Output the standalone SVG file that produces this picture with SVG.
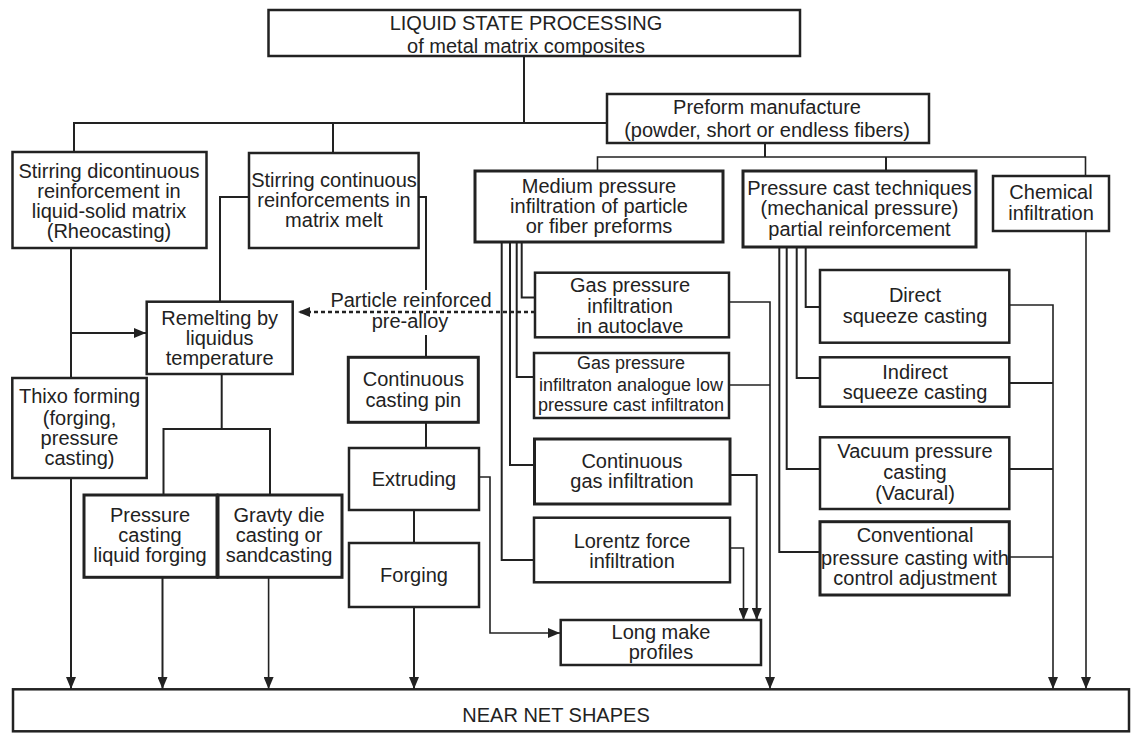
<svg xmlns="http://www.w3.org/2000/svg" width="1131" height="734" viewBox="0 0 1131 734">
<style>
.box{fill:#fff;stroke:#222;stroke-width:2.5}
.t{font-family:"Liberation Sans",Arial,sans-serif;font-size:20px;fill:#222;text-anchor:middle}
.s{font-size:18px}
.c{fill:none;stroke:#222;stroke-width:2}
.thin{stroke-width:1.6}
.dash{fill:none;stroke:#222;stroke-width:2.5;stroke-dasharray:4 3}
</style>
<defs>
<marker id="a" viewBox="0 0 12 10" refX="12" refY="5" markerWidth="12" markerHeight="10" markerUnits="userSpaceOnUse" orient="auto"><path d="M0,0 L12,5 L0,10 z" fill="#222"/></marker>
</defs>
<rect width="1131" height="734" fill="#fff"/>
<g id="connectors">
<path class="c" d="M524,56 V123"/>
<path class="c" d="M74,152 V123 H607"/>
<path class="c" d="M333,123 V153"/>
<path class="c" d="M765,143 V157"/>
<path class="c thin" d="M597.5,171 V157 H1085.5 V176"/>
<path class="c" d="M886,157 V171"/>
<path class="c" d="M249,197 H220 V301.7"/>
<path class="c" d="M418.6,197 H426 V290"/>
<path class="c" d="M426,335 V357"/>
<path class="c" d="M71,248 V378"/>
<path class="c" d="M71,333 H146" marker-end="url(#a)"/>
<path class="c" d="M221.7,374 V429"/>
<path class="c" d="M163.5,495 V429 H270 V495"/>
<path class="c" d="M71,478 V689" marker-end="url(#a)"/>
<path class="c" d="M162.5,577 V689" marker-end="url(#a)"/>
<path class="c thin" d="M268.6,577 V689" marker-end="url(#a)"/>
<path class="c" d="M426,422 V448"/>
<path class="c" d="M414,510 V543"/>
<path class="c" d="M414,607 V689" marker-end="url(#a)"/>
<path class="c thin" d="M479,477 H490 V633 H560" marker-end="url(#a)"/>
<path class="c" d="M521.7,242 V297.5 H535"/>
<path class="c" d="M516.7,242 V377 H534"/>
<path class="c" d="M510,242 V465 H535"/>
<path class="c" d="M501.7,242 V560 H534"/>
<path class="c thin" d="M729,302 H770 V689" marker-end="url(#a)"/>
<path class="c thin" d="M729,385 H770"/>
<path class="c" d="M730,475 H756.7 V620" marker-end="url(#a)"/>
<path class="c thin" d="M730,548 H743.5 V620" marker-end="url(#a)"/>
<path class="c" d="M805.7,247 V307 H820"/>
<path class="c" d="M796.7,247 V378 H820"/>
<path class="c" d="M786.7,247 V469 H820"/>
<path class="c" d="M779.3,247 V552 H820"/>
<path class="c thin" d="M1009,305 H1053 V689" marker-end="url(#a)"/>
<path class="c" d="M1009,383 H1053"/>
<path class="c" d="M1009,469 H1053"/>
<path class="c thin" d="M1009,557 H1053"/>
<path class="c thin" d="M1086,231 V689" marker-end="url(#a)"/>
<path class="dash" d="M535,312 H298" marker-end="url(#a)"/>
<text class="t"><tspan x="411" y="307">Particle reinforced</tspan><tspan x="410" y="328">pre-alloy</tspan></text>
</g>
<g id="n-top"><rect class="box" x="268.5" y="10" width="531.5" height="46"/>
<text class="t"><tspan x="526" y="30">LIQUID STATE PROCESSING</tspan><tspan x="526" y="53">of metal matrix composites</tspan></text></g>
<g id="n-preform"><rect class="box" x="607" y="94" width="322" height="49"/>
<text class="t"><tspan x="767" y="114">Preform manufacture</tspan><tspan x="767" y="137">(powder, short or endless fibers)</tspan></text></g>
<g id="n-stir-disc"><rect class="box" x="12.5" y="152" width="194" height="96"/>
<text class="t"><tspan x="109" y="178">Stirring dicontinuous</tspan><tspan x="109" y="198">reinforcement in</tspan><tspan x="109" y="218">liquid-solid matrix</tspan><tspan x="109" y="238">(Rheocasting)</tspan></text></g>
<g id="n-stir-cont"><rect class="box" x="249" y="153" width="169.6" height="95"/>
<text class="t"><tspan x="334" y="187">Stirring continuous</tspan><tspan x="334" y="207">reinforcements in</tspan><tspan x="334" y="227">matrix melt</tspan></text></g>
<g id="n-medium"><rect class="box" x="475" y="171" width="248" height="71" style="stroke-width:3"/>
<text class="t"><tspan x="599" y="193">Medium pressure</tspan><tspan x="599" y="213">infiltration of particle</tspan><tspan x="599" y="233">or fiber preforms</tspan></text></g>
<g id="n-pcast"><rect class="box" x="743" y="171" width="233" height="76" style="stroke-width:3"/>
<text class="t"><tspan x="859.5" y="195">Pressure cast techniques</tspan><tspan x="859.5" y="215">(mechanical pressure)</tspan><tspan x="859.5" y="236">partial reinforcement</tspan></text></g>
<g id="n-chem"><rect class="box" x="993" y="176" width="116" height="55"/>
<text class="t"><tspan x="1051" y="199">Chemical</tspan><tspan x="1051" y="220">infiltration</tspan></text></g>
<g id="n-remelt"><rect class="box" x="146.7" y="301.7" width="146" height="72.3"/>
<text class="t"><tspan x="219.7" y="325">Remelting by</tspan><tspan x="219.7" y="345">liquidus</tspan><tspan x="219.7" y="365">temperature</tspan></text></g>
<g id="n-thixo"><rect class="box" x="12.3" y="378" width="134.4" height="100"/>
<text class="t"><tspan x="79.5" y="403">Thixo forming</tspan><tspan x="79.5" y="425">(forging,</tspan><tspan x="79.5" y="445">pressure</tspan><tspan x="79.5" y="465">casting)</tspan></text></g>
<g id="n-ccp"><rect class="box" x="348.3" y="357.3" width="130" height="65" style="stroke-width:3"/>
<text class="t"><tspan x="413.3" y="386">Continuous</tspan><tspan x="413.3" y="407">casting pin</tspan></text></g>
<g id="n-extrude"><rect class="box" x="349" y="448" width="130" height="62"/>
<text class="t"><tspan x="414" y="486">Extruding</tspan></text></g>
<g id="n-forge"><rect class="box" x="349" y="543" width="130" height="64"/>
<text class="t"><tspan x="414" y="582">Forging</tspan></text></g>
<g id="n-pcl"><rect class="box" x="84" y="495" width="133" height="82.3" style="stroke-width:3"/>
<text class="t"><tspan x="150" y="522">Pressure</tspan><tspan x="150" y="542">casting</tspan><tspan x="150" y="562">liquid forging</tspan></text></g>
<g id="n-gravity"><rect class="box" x="218" y="495" width="124" height="82.3" style="stroke-width:3"/>
<text class="t"><tspan x="279" y="522">Gravty die</tspan><tspan x="279" y="542">casting or</tspan><tspan x="279" y="562">sandcasting</tspan></text></g>
<g id="n-gpa"><rect class="box" x="535" y="272.7" width="194" height="64.6"/>
<text class="t"><tspan x="630" y="292">Gas pressure</tspan><tspan x="630" y="313">infiltration</tspan><tspan x="630" y="333">in autoclave</tspan></text></g>
<g id="n-analog"><rect class="box" x="534" y="353" width="195" height="65"/>
<text class="t s"><tspan x="631" y="369">Gas pressure</tspan><tspan x="631" y="391">infiltraton analogue low</tspan><tspan x="631" y="411">pressure cast infiltraton</tspan></text></g>
<g id="n-cgi"><rect class="box" x="534.5" y="439" width="195.5" height="65" style="stroke-width:3"/>
<text class="t"><tspan x="632" y="468">Continuous</tspan><tspan x="632" y="488">gas infiltration</tspan></text></g>
<g id="n-lorentz"><rect class="box" x="534" y="517.7" width="196" height="64.6"/>
<text class="t"><tspan x="632" y="548">Lorentz force</tspan><tspan x="632" y="568">infiltration</tspan></text></g>
<g id="n-long"><rect class="box" x="560.7" y="620" width="200.3" height="45"/>
<text class="t"><tspan x="661" y="639">Long make</tspan><tspan x="661" y="659">profiles</tspan></text></g>
<g id="n-direct"><rect class="box" x="820" y="270" width="189.3" height="72.7"/>
<text class="t"><tspan x="915" y="302">Direct</tspan><tspan x="915" y="323">squeeze casting</tspan></text></g>
<g id="n-indirect"><rect class="box" x="820" y="357.3" width="189.3" height="49.4"/>
<text class="t"><tspan x="915" y="379">Indirect</tspan><tspan x="915" y="399">squeeze casting</tspan></text></g>
<g id="n-vacuum"><rect class="box" x="820" y="437.3" width="189.3" height="71.7"/>
<text class="t"><tspan x="915" y="458">Vacuum pressure</tspan><tspan x="915" y="479">casting</tspan><tspan x="915" y="500">(Vacural)</tspan></text></g>
<g id="n-conv"><rect class="box" x="820" y="521.7" width="189.3" height="73.3" style="stroke-width:3"/>
<text class="t"><tspan x="915" y="542">Conventional</tspan><tspan x="915" y="565">pressure casting with</tspan><tspan x="915" y="585">control adjustment</tspan></text></g>
<g id="n-near"><rect class="box" x="13" y="689.3" width="1116" height="42"/>
<text class="t"><tspan x="556" y="722">NEAR NET SHAPES</tspan></text></g>
</svg>
